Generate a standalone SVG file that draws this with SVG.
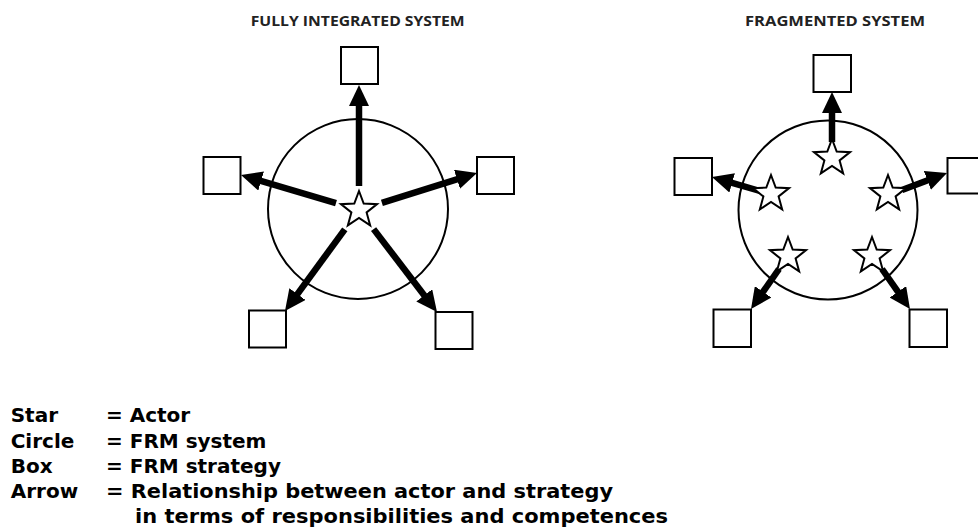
<svg xmlns="http://www.w3.org/2000/svg" width="978" height="531" viewBox="0 0 978 531">
<style>
.title{font-family:"Open Sans","Liberation Sans",sans-serif;font-weight:700;font-size:14px;fill:#222}
.legend{font-family:"DejaVu Sans","Liberation Sans",sans-serif;font-weight:700;font-size:20px;fill:#000}
.box{fill:#fff;stroke:#000;stroke-width:2}
.ring{fill:none;stroke:#000;stroke-width:2}
.star{fill:#fff;stroke:#000;stroke-width:2;stroke-linejoin:miter}
.arrow{stroke:#000;stroke-width:6.5;fill:none;marker-end:url(#head)}
</style>
<defs>
<marker id="head" viewBox="0 0 21 20" markerUnits="userSpaceOnUse" markerWidth="21" markerHeight="20" refX="9" refY="10" orient="auto">
<path d="M0,0 L21,10 L0,20 Z" fill="#000"/>
</marker>
<path id="starShape" d="M0,-19 L4.7,-6.47 L18.07,-5.87 L7.61,2.47 L11.17,15.37 L0,8 L-11.17,15.37 L-7.61,2.47 L-18.07,-5.87 L-4.7,-6.47 Z"/>
</defs>
<rect width="978" height="531" fill="#fff"/>

<text class="title" x="250.7" y="25.7" textLength="214" lengthAdjust="spacingAndGlyphs">FULLY INTEGRATED SYSTEM</text>
<text class="title" x="745" y="25.7" textLength="180" lengthAdjust="spacingAndGlyphs">FRAGMENTED SYSTEM</text>

<!-- Fully integrated system -->
<g id="integrated-circle"><circle class="ring" cx="358" cy="209" r="90"/></g>
<g id="integrated-box-top"><rect class="box" x="341" y="47" width="37" height="37"/></g>
<g id="integrated-box-left"><rect class="box" x="203.5" y="157" width="37" height="37"/></g>
<g id="integrated-box-right"><rect class="box" x="477" y="157" width="37" height="37"/></g>
<g id="integrated-box-bottom-left"><rect class="box" x="249" y="310.5" width="37" height="37"/></g>
<g id="integrated-box-bottom-right"><rect class="box" x="435.5" y="312" width="37" height="37"/></g>

<!-- Fragmented system -->
<g id="fragmented-circle"><circle class="ring" cx="828" cy="210" r="89.5"/></g>
<g id="fragmented-box-top"><rect class="box" x="813.5" y="55" width="37.5" height="37"/></g>
<g id="fragmented-box-left"><rect class="box" x="674.5" y="158" width="37.5" height="37"/></g>
<g id="fragmented-box-right"><rect class="box" x="947.5" y="158" width="37.5" height="35.5"/></g>
<g id="fragmented-box-bottom-left"><rect class="box" x="713.5" y="309.5" width="37.5" height="37.5"/></g>
<g id="fragmented-box-bottom-right"><rect class="box" x="909.5" y="309.5" width="37.5" height="37.5"/></g>

<g id="connectors">
<line class="arrow" x1="359" y1="186" x2="359" y2="97"/>
<line class="arrow" x1="336" y1="203.2" x2="252.5" y2="178.4"/>
<line class="arrow" x1="381.9" y1="202.8" x2="465.55" y2="176.59"/>
<line class="arrow" x1="344.8" y1="229.4" x2="292.09" y2="301.32"/>
<line class="arrow" x1="373.6" y1="229.1" x2="429.71" y2="302.47"/>
<line class="arrow" x1="832" y1="142" x2="832" y2="104"/>
<line class="arrow" x1="760" y1="191" x2="723.5" y2="180.4"/>
<line class="arrow" x1="902" y1="190" x2="935.8" y2="177.2"/>
<line class="arrow" x1="779" y1="269" x2="757.9" y2="299.2"/>
<line class="arrow" x1="882" y1="269" x2="903.1" y2="299.2"/>
</g>

<g id="integrated-star"><use href="#starShape" class="star" transform="translate(359,210)"/></g>
<g id="fragmented-star-top"><use href="#starShape" class="star" transform="translate(832,158)"/></g>
<g id="fragmented-star-left"><use href="#starShape" class="star" transform="translate(771,194)"/></g>
<g id="fragmented-star-right"><use href="#starShape" class="star" transform="translate(888,194)"/></g>
<g id="fragmented-star-bottom-left"><use href="#starShape" class="star" transform="translate(788,256)"/></g>
<g id="fragmented-star-bottom-right"><use href="#starShape" class="star" transform="translate(872,256)"/></g>

<g id="legend">
<text class="legend" x="10.7" y="422">Star</text>
<text class="legend" x="106" y="422">= Actor</text>
<text class="legend" x="10.7" y="447.5">Circle</text>
<text class="legend" x="106" y="447.5">= FRM system</text>
<text class="legend" x="10.7" y="473">Box</text>
<text class="legend" x="106" y="473">= FRM strategy</text>
<text class="legend" x="10.7" y="498">Arrow</text>
<text class="legend" x="106" y="498" textLength="507" lengthAdjust="spacingAndGlyphs">= Relationship between actor and strategy</text>
<text class="legend" x="135" y="523" textLength="533" lengthAdjust="spacingAndGlyphs">in terms of responsibilities and competences</text>
</g>
</svg>
